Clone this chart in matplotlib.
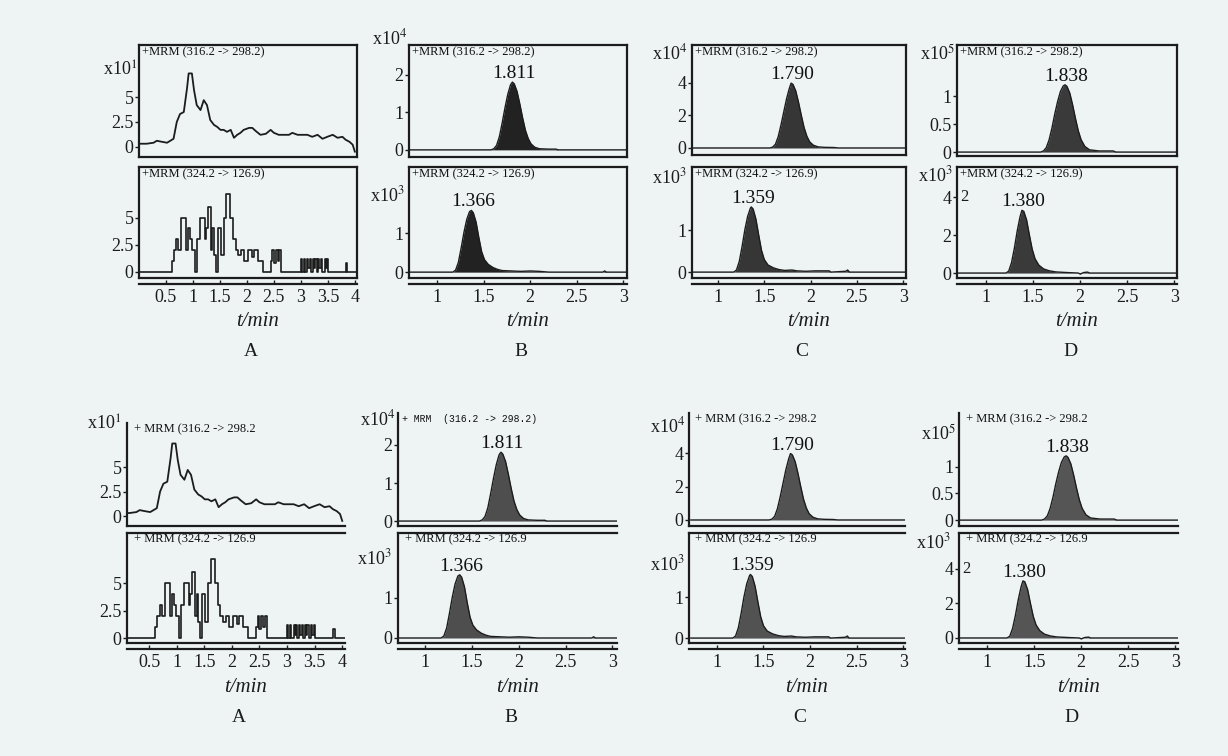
import matplotlib
matplotlib.use('Agg')
import matplotlib.pyplot as plt

# ---------------- DATA ----------------
# Column A, blank: 316.2 -> 298.2 (x10^1)
a_up_t = [0.00, 0.14, 0.27, 0.33, 0.42, 0.52, 0.58, 0.64, 0.70, 0.76, 0.83, 0.89, 0.92,
          0.98, 1.02, 1.07, 1.14, 1.20, 1.26, 1.32, 1.39, 1.45, 1.51, 1.57, 1.63, 1.70,
          1.76, 1.82, 1.88, 1.94, 2.04, 2.10, 2.16, 2.25, 2.35, 2.44, 2.50, 2.59, 2.69,
          2.78, 2.84, 2.94, 3.03, 3.12, 3.21, 3.31, 3.40, 3.49, 3.59, 3.68, 3.77, 3.83,
          3.90, 3.96, 4.00]
a_up_y = [0.3, 0.3, 0.4, 0.6, 0.5, 0.4, 0.6, 0.8, 2.5, 3.3, 3.5, 5.9, 7.4,
          7.4, 5.7, 4.2, 3.7, 4.7, 4.2, 2.7, 2.2, 2.0, 1.7, 1.7, 1.5, 1.7,
          0.9, 1.2, 1.4, 1.7, 1.9, 1.9, 1.6, 1.2, 1.3, 1.7, 1.4, 1.2, 1.2,
          1.2, 1.4, 1.2, 1.2, 1.2, 1.0, 1.2, 0.8, 1.0, 1.2, 0.9, 1.0, 0.7,
          0.5, 0.2, -0.5]
# Column A, blank: 324.2 -> 126.9 (step-like counts)
a_lo_t = [0.00, 0.61, 0.65, 0.69, 0.73, 0.78, 0.88, 0.91, 0.95, 0.99, 1.04, 1.07, 1.13,
          1.22, 1.25, 1.28, 1.33, 1.36, 1.39, 1.43, 1.46, 1.52, 1.57, 1.62, 1.69, 1.74,
          1.79, 1.84, 1.89, 1.94, 2.02, 2.10, 2.13, 2.20, 2.30, 2.44, 2.47, 2.50, 2.53,
          2.57, 2.60, 2.63, 3.00, 3.02, 3.05, 3.07, 3.12, 3.14, 3.16, 3.18, 3.22, 3.24,
          3.27, 3.29, 3.32, 3.34, 3.37, 3.39, 3.44, 3.46, 3.49, 3.51, 3.84, 3.86, 4.06]
a_lo_y = [0, 1, 2, 3, 2, 5, 2, 4, 3, 2, 0, 3, 5,
          3, 4, 6, 2, 4, 1.5, 0, 4, 1.5, 5, 7.2, 5, 3,
          2, 1.5, 2, 1, 2, 1.3, 2, 1, 0, 1, 2, 0.8, 2,
          1, 2, 0, 1.2, 0, 1.2, 0, 1.2, 0.3, 1.2, 0, 1.2, 0.3,
          1.2, 0, 1.2, 0.3, 1.2, 0, 1.2, 0.3, 1.2, 0, 0.8, 0, 0]

# Column B: 316.2 -> 298.2 (x10^4) and 324.2 -> 126.9 (x10^3)
b_up_t = [0.70, 1.58, 1.61, 1.64, 1.67, 1.70, 1.73, 1.76, 1.79, 1.81, 1.83, 1.86, 1.89,
          1.92, 1.95, 1.98, 2.01, 2.05, 2.10, 2.20, 2.28, 2.30, 3.05]
b_up_y = [0, 0, 0.03, 0.12, 0.35, 0.72, 1.12, 1.48, 1.74, 1.81, 1.76, 1.56, 1.22,
          0.85, 0.52, 0.30, 0.16, 0.07, 0.03, 0.02, 0.02, 0, 0]
b_lo_t = [0.70, 1.17, 1.20, 1.23, 1.26, 1.29, 1.32, 1.35, 1.37, 1.39, 1.42, 1.45, 1.48,
          1.51, 1.55, 1.60, 1.65, 1.70, 1.80, 1.90, 2.00, 2.10, 2.20, 2.78, 2.80, 2.82, 3.05]
b_lo_y = [0, 0, 0.05, 0.25, 0.62, 1.02, 1.35, 1.55, 1.58, 1.52, 1.28, 0.88, 0.52,
          0.32, 0.20, 0.12, 0.07, 0.04, 0.03, 0.02, 0.03, 0.02, 0, 0, 0.03, 0, 0]

# Column C: (x10^4) and (x10^3)
c_up_t = [0.72, 1.56, 1.59, 1.62, 1.65, 1.68, 1.71, 1.74, 1.77, 1.79, 1.81, 1.84, 1.87,
          1.90, 1.93, 1.96, 1.99, 2.03, 2.08, 2.15, 2.25, 2.30, 3.03]
c_up_y = [0, 0, 0.05, 0.22, 0.68, 1.4, 2.2, 3.0, 3.65, 3.98, 3.9, 3.5, 2.8,
          2.0, 1.25, 0.72, 0.38, 0.17, 0.07, 0.04, 0.03, 0, 0]
c_lo_t = [0.72, 1.17, 1.20, 1.23, 1.26, 1.29, 1.32, 1.35, 1.36, 1.38, 1.41, 1.44, 1.47,
          1.50, 1.54, 1.60, 1.66, 1.72, 1.80, 1.85, 1.95, 2.05, 2.20, 2.22, 2.38, 2.40,
          2.42, 3.03]
c_lo_y = [0, 0, 0.05, 0.25, 0.60, 1.0, 1.32, 1.52, 1.55, 1.50, 1.26, 0.88, 0.52,
          0.30, 0.17, 0.10, 0.06, 0.04, 0.05, 0.03, 0.02, 0.03, 0.03, 0, 0.02, 0.05,
          0, 0]

# Column D: (x10^5) and (x10^3)
d_up_t = [0.69, 1.58, 1.61, 1.64, 1.67, 1.70, 1.73, 1.76, 1.79, 1.82, 1.84, 1.86, 1.89,
          1.92, 1.95, 1.98, 2.01, 2.05, 2.10, 2.20, 2.35, 2.38, 3.03]
d_up_y = [0, 0, 0.02, 0.08, 0.22, 0.43, 0.68, 0.90, 1.08, 1.18, 1.20, 1.17, 1.05,
          0.84, 0.60, 0.38, 0.22, 0.10, 0.04, 0.02, 0.02, 0, 0]
d_lo_t = [0.69, 1.21, 1.24, 1.27, 1.30, 1.33, 1.36, 1.38, 1.40, 1.43, 1.46, 1.49, 1.52,
          1.56, 1.61, 1.67, 1.74, 1.85, 1.98, 2.00, 2.04, 2.08, 2.10, 3.03]
d_lo_y = [0, 0, 0.10, 0.55, 1.30, 2.20, 2.95, 3.30, 3.25, 2.80, 2.00, 1.25, 0.75,
          0.42, 0.22, 0.12, 0.06, 0.03, 0, -0.05, 0.03, 0.05, 0, 0]

peak_labels = {'B': ('1.811', '1.366'), 'C': ('1.790', '1.359'), 'D': ('1.838', '1.380')}
multipliers = {'A': ('1', None), 'B': ('4', '3'), 'C': ('4', '3'), 'D': ('5', '3')}
ytick_vals = {'A': ([0, 2.5, 5], [0, 2.5, 5]), 'B': ([0, 1, 2], [0, 1]),
              'C': ([0, 2, 4], [0, 1]), 'D': ([0, 0.5, 1], [0, 2, 4])}
ytick_labels = {'A': (['0', '2.5', '5'], ['0', '2.5', '5']), 'B': (['0', '1', '2'], ['0', '1']),
                'C': (['0', '2', '4'], ['0', '1']), 'D': (['0', '0.5', '1'], ['0', '2', '4'])}
xticks_A = [0.5, 1, 1.5, 2, 2.5, 3, 3.5, 4]
xticklabels_A = ['0.5', '1', '1.5', '2', '2.5', '3', '3.5', '4']
xticks_BCD = [1, 1.5, 2, 2.5, 3]
xticklabels_BCD = ['1', '1.5', '2', '2.5', '3']
column_letters = ['A', 'B', 'C', 'D']
mrm_up = '+MRM (316.2 -> 298.2)'
mrm_lo = '+MRM (324.2 -> 126.9)'
mrm_up2 = '+ MRM (316.2 -> 298.2'
mrm_lo2 = '+ MRM (324.2 -> 126.9'

series = {'A': ((a_up_t, a_up_y), (a_lo_t, a_lo_y)),
          'B': ((b_up_t, b_up_y), (b_lo_t, b_lo_y)),
          'C': ((c_up_t, c_up_y), (c_lo_t, c_lo_y)),
          'D': ((d_up_t, d_up_y), (d_lo_t, d_lo_y))}

# ---------------- LAYOUT (pixels) ----------------
W, H = 1228, 756
BG = '#edf4f3'
INK = '#1c1c1c'
plt.rcParams['font.family'] = ['Liberation Serif', 'DejaVu Serif']
plt.rcParams['mathtext.fontset'] = 'stix'
fig = plt.figure(figsize=(W / 100, H / 100), dpi=100)
fig.patch.set_facecolor(BG)


def add_ax(l, r, t, b):
    a = fig.add_axes([l / W, 1 - b / H, (r - l) / W, (b - t) / H])
    a.set_facecolor('none')
    return a


def ftext(x, y, s, **kw):
    fig.text(x / W, 1 - y / H, s, **kw)


rows = [
    # top row (boxed)
    dict(boxed=True,
         x={'A': (139, 357, 0.0, 4.04), 'B': (409, 627, 0.70, 3.04),
            'C': (692, 906, 0.72, 3.03), 'D': (957, 1177, 0.69, 3.03)},
         up={'A': (45, 157, -1.04, 10.27), 'B': (45, 157, -0.19, 2.8),
             'C': (45, 155, -0.43, 6.32), 'D': (45, 156, -0.07, 1.91)},
         lo={'A': (167, 278, -0.6, 9.68), 'B': (167, 278, -0.15, 2.69),
             'C': (167, 278, -0.14, 2.50), 'D': (167, 278, -0.26, 5.58)},
         mult_up={'A': (137, 70), 'B': (407, 38), 'C': (687, 53), 'D': (955, 54)},
         mult_lo={'B': (405, 195), 'C': (687, 177), 'D': (953, 175)},
         tmin_y=322, letter_y=352,
         fills={'B': '#222222', 'C': '#363636', 'D': '#3a3a3a'}),
    # bottom row (open axes)
    dict(boxed=False,
         x={'A': (127, 345, 0.10, 4.05), 'B': (398, 617, 0.71, 3.05),
            'C': (689, 905, 0.70, 3.02), 'D': (959, 1178, 0.70, 3.03)},
         up={'A': (423, 526, -1.02, 9.49), 'B': (413, 526, -0.13, 2.84),
             'C': (413, 526, -0.36, 6.41), 'D': (413, 526, -0.11, 2.0)},
         lo={'A': (533, 643, -0.45, 9.55), 'B': (533, 643, -0.125, 2.625),
             'C': (533, 643, -0.12, 2.56), 'D': (533, 643, -0.29, 6.07)},
         mult_up={'A': (121, 424), 'B': (395, 419), 'C': (685, 426), 'D': (956, 434)},
         mult_lo={'B': (392, 558), 'C': (685, 564), 'D': (951, 542)},
         tmin_y=687, letter_y=717,
         fills={'B': '#4e4e4e', 'C': '#525252', 'D': '#555555'}),
]

for ri, row in enumerate(rows):
    for col in column_letters:
        l, r, x0, x1 = row['x'][col]
        for si, key in enumerate(['up', 'lo']):
            t, b, y0, y1 = row[key][col]
            ax = add_ax(l, r, t, b)
            ax.set_xlim(x0, x1)
            ax.set_ylim(y0, y1)
            tt, yy = series[col][si]
            if col == 'A':
                if si == 0:
                    ax.plot(tt, yy, color=INK, lw=1.3, clip_on=True)
                else:
                    ax.step(tt, yy, where='post', color=INK, lw=1.2)
            else:
                ax.fill_between(tt, yy, 0, color=row['fills'][col], lw=0)
                ax.plot(tt, yy, color=INK, lw=1.0)
                pk = max(yy)
                pt = tt[yy.index(pk)]
                ax.annotate(peak_labels[col][si], (pt, pk), xytext=(1, 0),
                            textcoords='offset points', ha='center', va='bottom',
                            fontsize=14, color='#111111')
            # spines
            for s in ax.spines.values():
                s.set_color(INK)
                s.set_linewidth(1.6)
            if not row['boxed']:
                ax.spines['right'].set_visible(False)
                if si == 0:
                    ax.spines['top'].set_visible(False)
            # y ticks
            ax.set_yticks(ytick_vals[col][si])
            ax.set_yticklabels(ytick_labels[col][si])
            ax.tick_params(axis='y', direction='out', length=3, width=1, pad=1,
                           labelsize=13, colors=INK)
            # x ticks
            if si == 0:
                ax.set_xticks([])
            else:
                ax.spines['bottom'].set_position(('outward', 4))
                ax.plot([0, 1], [0, 0], transform=ax.transAxes, color=INK, lw=1.6,
                        clip_on=False)
                if col == 'A':
                    ax.set_xticks(xticks_A)
                    ax.set_xticklabels(xticklabels_A)
                else:
                    ax.set_xticks(xticks_BCD)
                    ax.set_xticklabels(xticklabels_BCD)
                ax.tick_params(axis='x', direction='in', length=3, width=1, pad=4,
                               labelsize=13, colors=INK)
            # MRM label
            if row['boxed']:
                lab = mrm_up if si == 0 else mrm_lo
                ax.text(0.015, 0.985, lab, transform=ax.transAxes, ha='left', va='top',
                        fontsize=9, color='#111111')
            else:
                if si == 0 and col == 'B':
                    ax.text(0.02, 0.995, '+ MRM  (316.2 -> 298.2)', transform=ax.transAxes,
                            ha='left', va='top', fontsize=7, color='#111111',
                            family=['Liberation Mono', 'DejaVu Sans Mono'])
                else:
                    lab = mrm_up2 if si == 0 else mrm_lo2
                    ax.text(0.03, 0.995, lab, transform=ax.transAxes, ha='left', va='top',
                            fontsize=9, color='#111111')
            if col == 'D' and si == 1:
                ax.text(0.015, 4, '2', transform=ax.get_yaxis_transform(), ha='left',
                        va='center', fontsize=12, color=INK)
        # multiplier labels
        mu, ml = multipliers[col]
        if mu is not None:
            mx, my = row['mult_up'][col]
            ftext(mx, my, 'x10$^{%s}$' % mu, ha='right', va='center', fontsize=13,
                  color=INK)
        if ml is not None:
            mx, my = row['mult_lo'][col]
            ftext(mx, my, 'x10$^{%s}$' % ml, ha='right', va='center', fontsize=13,
                  color=INK)
        cx = (l + r) / 2
        ftext(cx + 10, row['tmin_y'], 't/min', ha='center', va='center', fontsize=15,
              style='italic', color=INK)
        ftext(cx + 3, row['letter_y'], col, ha='center', va='center', fontsize=14,
              color=INK)

fig.savefig('out.png', dpi=100, facecolor=BG)
